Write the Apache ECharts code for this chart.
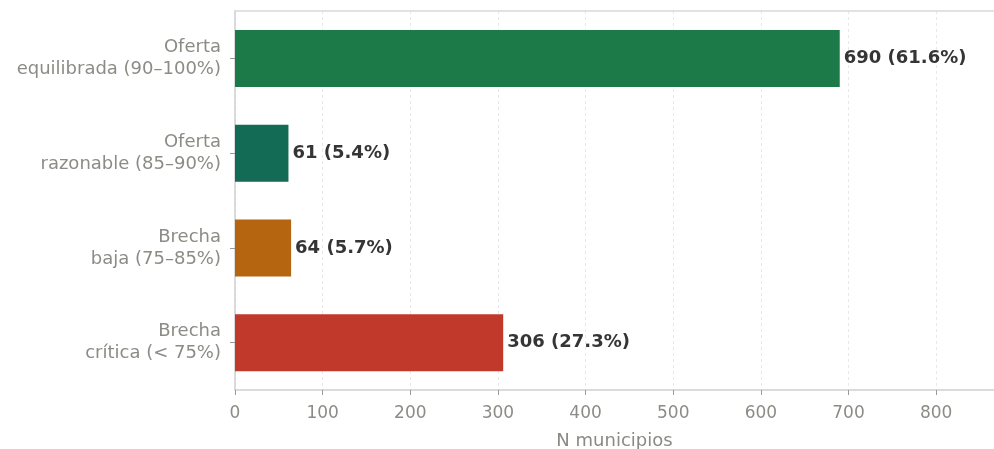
<!DOCTYPE html>
<html>
<head>
<meta charset="utf-8">
<script src="https://cdn.jsdelivr.net/npm/echarts@6/dist/echarts.min.js"></script>
<style>html,body{margin:0;padding:0;background:#fff;}#c{width:994px;height:449px;}</style>
</head>
<body>
<div id="c"></div>
<script>
const categories = ["Oferta\nequilibrada (90–100%)", "Oferta\nrazonable (85–90%)", "Brecha\nbaja (75–85%)", "Brecha\ncrítica (< 75%)"];
const counts = [690, 61, 64, 306];
const percents = [61.6, 5.4, 5.7, 27.3];
const xTicks = [0, 100, 200, 300, 400, 500, 600, 700, 800];
const xMax = 866;

const barColors = ["#1b7a47", "#136b55", "#b5650f", "#c0392b"];
const font = "DejaVu Sans";

const chart = echarts.init(document.getElementById('c'), null, {renderer: 'canvas'});
chart.setOption({
  animation: false,
  backgroundColor: '#ffffff',
  grid: {left: 235, right: 0, top: 11, bottom: 59, containLabel: false, outerBoundsMode: 'none'},
  xAxis: [{
    type: 'value', min: 0, max: xMax, interval: 100,
    name: 'N municipios', nameLocation: 'middle', nameGap: 42,
    nameTextStyle: {fontFamily: font, fontSize: 18, color: '#8a8a84'},
    axisLine: {show: true, lineStyle: {color: '#cfcfcf', width: 1.5}},
    axisTick: {show: true, length: 5, customValues: xTicks, lineStyle: {color: '#9a9a9a'}},
    axisLabel: {fontFamily: font, fontSize: 17, color: '#8c8c86', margin: 15, customValues: xTicks,
      formatter: v => String(v)},
    splitLine: {show: true, lineStyle: {color: '#e8e8e8', type: [3, 3], width: 1}}
  }, {
    type: 'value', position: 'top', min: 0, max: xMax, interval: 100,
    axisLine: {show: true, onZero: false, lineStyle: {color: '#d9d9d9', width: 1.5}},
    axisTick: {show: false}, axisLabel: {show: false}, splitLine: {show: false}
  }],
  yAxis: {
    type: 'category', data: categories, inverse: true,
    axisLine: {show: true, lineStyle: {color: '#cfcfcf', width: 1.5}},
    axisTick: {show: true, length: 5, alignWithLabel: true, lineStyle: {color: '#9a9a9a'}},
    axisLabel: {fontFamily: font, fontSize: 18, lineHeight: 22, color: '#8c8c86', margin: 14, align: 'right'},
    splitLine: {show: false}
  },
  series: [{
    type: 'bar', xAxisIndex: 0,
    data: counts.map((v, i) => ({value: v, itemStyle: {color: barColors[i]}})),
    barWidth: 57,
    label: {
      show: true, position: 'right', distance: 4,
      fontFamily: font, fontSize: 18, fontWeight: 'bold', color: '#353535',
      formatter: p => `${counts[p.dataIndex]} (${percents[p.dataIndex].toFixed(1)}%)`
    }
  }]
});
</script>
</body>
</html>
